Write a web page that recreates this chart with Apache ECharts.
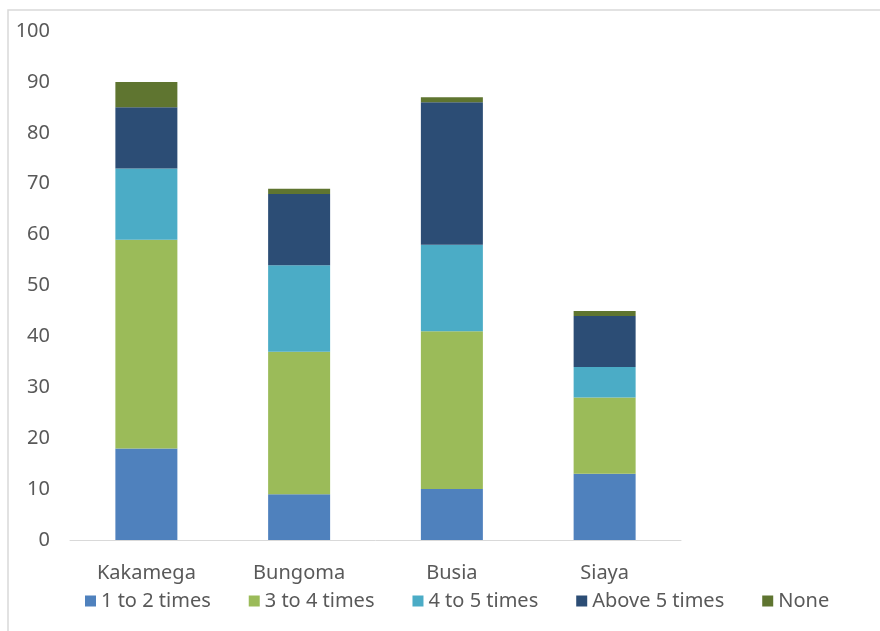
<!DOCTYPE html>
<html>
<head>
<meta charset="utf-8">
<script src="https://cdn.jsdelivr.net/npm/echarts@6/dist/echarts.min.js"></script>
<style>
  html, body { margin: 0; padding: 0; background: #fff; }
  #chart { width: 880px; height: 631px; }
</style>
</head>
<body>
<div id="chart"></div>
<script>
// counties on the x axis
var counties = ['Kakamega', 'Bungoma', 'Busia', 'Siaya'];

// stacked values per frequency group
var oneToTwo = [18, 9, 10, 13];
var threeToFour = [41, 28, 31, 15];
var fourToFive = [14, 17, 17, 6];
var aboveFive = [12, 14, 28, 10];
var none = [5, 1, 1, 1];

var seriesNames = ['1 to 2 times', '3 to 4 times', '4 to 5 times', 'Above 5 times', 'None'];
var seriesColors = ['#4f81bd', '#9bbb59', '#4bacc6', '#2c4d75', '#5f7530'];

(function () {
    'use strict';
    var font = 'Noto Sans';
    var myChart = echarts.init(document.getElementById('chart'));

    var values = [oneToTwo, threeToFour, fourToFive, aboveFive, none];
    var series = values.map(function (data, i) {
        return {
            name: seriesNames[i],
            type: 'bar',
            stack: 'total',
            barWidth: 62,
            itemStyle: { color: seriesColors[i] },
            data: data
        };
    });

    var option = {
        animation: false,
        color: seriesColors,
        textStyle: { fontFamily: font },
        graphic: [{
            type: 'rect',
            shape: { x: 8, y: 10, width: 900, height: 640 },
            style: { fill: 'none', stroke: '#d9d9d9', lineWidth: 1.5 },
            silent: true
        }],
        grid: { left: 70, right: 199, top: 31, bottom: 91 },
        legend: {
            bottom: 15,
            left: 80,
            itemWidth: 11,
            itemHeight: 11,
            itemGap: 38,
            icon: 'rect',
            textStyle: { color: '#595959', fontSize: 20, fontFamily: font },
            data: seriesNames
        },
        xAxis: {
            type: 'category',
            data: counties,
            axisLine: { lineStyle: { color: '#d9d9d9', width: 1 } },
            axisTick: { show: false },
            axisLabel: { color: '#595959', fontSize: 20, margin: 23, fontFamily: font }
        },
        yAxis: {
            type: 'value',
            min: 0,
            max: 100,
            interval: 10,
            splitLine: { show: false },
            axisLine: { show: false },
            axisTick: { show: false },
            axisLabel: { color: '#595959', fontSize: 20, margin: 20, fontFamily: font }
        },
        series: series
    };

    myChart.setOption(option);
})();
</script>
</body>
</html>
